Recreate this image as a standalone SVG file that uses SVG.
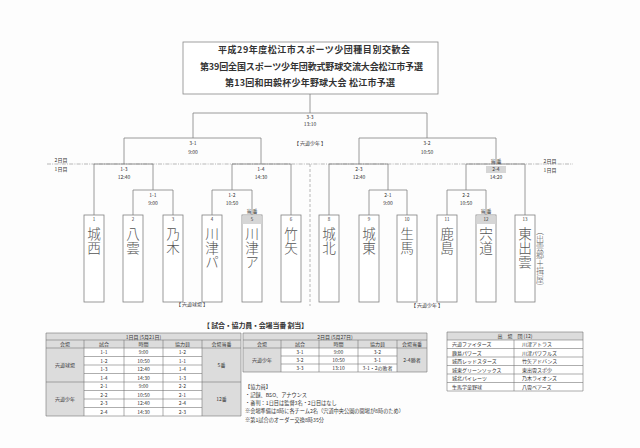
<svg xmlns="http://www.w3.org/2000/svg" width="640" height="448" viewBox="0 0 640 448">
<style>
text{font-family:"Noto Sans CJK JP","Noto Sans CJK SC",sans-serif;fill:#333}
.ln{stroke:#808080;stroke-width:0.8;fill:none}
.box{fill:#fff;stroke:#808080;stroke-width:0.8}
.sh{fill:#d6d6d6}
.lbl{font-size:5px;text-anchor:middle}
.num{font-size:4.5px;text-anchor:middle}
.team{font-size:13.6px;fill:#555;font-weight:300;writing-mode:vertical-rl;letter-spacing:0.2px}
.ttl{font-size:9px;text-anchor:middle;font-weight:bold;fill:#333}
.tc{font-size:5px;text-anchor:middle}
.tl{font-size:5px}
.tg{fill:#dcdcdc}
.tw{fill:#fff}
.tb{stroke:#777;stroke-width:0.6;fill:none}
.nt{font-size:5.2px}
</style>
<rect width="640" height="448" fill="#fdfdfd"/>

<g id="title">
<rect x="183" y="42" width="255" height="52" fill="#fff" stroke="#888" stroke-width="0.8"/>
<text class="ttl" x="314" y="52.5" textLength="192" lengthAdjust="spacing">平成29年度松江市スポーツ少団種目別交歓会</text>
<text class="ttl" x="311.5" y="69.5" textLength="223" lengthAdjust="spacing">第39回全国スポーツ少年団軟式野球交流大会松江市予選</text>
<text class="ttl" x="310" y="86.3" textLength="170" lengthAdjust="spacing">第13回和田毅杯少年野球大会 松江市予選</text>
</g>

<g id="day-lines">
<path d="M47 164H573" stroke="#999" stroke-width="0.7" stroke-dasharray="4 1.2 1 1.2" fill="none"/>
<path d="M310 164V306" stroke="#999" stroke-width="0.7" stroke-dasharray="3 2" fill="none"/>
<text class="lbl" x="61" y="161.8">2日目</text>
<text class="lbl" x="61" y="170.8">1日目</text>
<text class="lbl" x="550" y="162.8">2日目</text>
<text class="lbl" x="550" y="171.8">1日目</text>
</g>

<g id="connectors">
<path class="ln" d="M310 94V113M193 113H427M193 113V138M427 113V138"/>
<path class="ln" d="M124 138H261M124 138V164M261 138V164"/>
<path class="ln" d="M359 138H496M359 138V164M496 138V164"/>
<path class="ln" d="M94 164H153M94 164V215M153 164V190"/>
<path class="ln" d="M133 190H173M133 190V215M173 190V215"/>
<path class="ln" d="M232 164H291M232 164V190M291 164V215"/>
<path class="ln" d="M212 190H252M212 190V215M252 190V215"/>
<path class="ln" d="M329 164H388M329 164V215M388 164V190"/>
<path class="ln" d="M369 190H407M369 190V215M407 190V215"/>
<path class="ln" d="M466 164H525M466 164V190M525 164V215"/>
<path class="ln" d="M447 190H486M447 190V215M486 190V215"/>
</g>

<g id="match-labels">
<text class="lbl" x="310" y="118.7">3-3</text>
<text class="lbl" x="310" y="126.2">13:10</text>
<text class="lbl" x="193" y="144.8">3-1</text>
<text class="lbl" x="193" y="153.8">9:00</text>
<text class="lbl" x="427" y="144.8">3-2</text>
<text class="lbl" x="427" y="153.8">10:50</text>
<text class="lbl" x="310" y="144.8">【 宍道少年 】</text>
<text class="lbl" x="124" y="170.8">1-3</text>
<text class="lbl" x="124" y="178.8">12:40</text>
<text class="lbl" x="261" y="170.8">1-4</text>
<text class="lbl" x="261" y="178.8">14:30</text>
<text class="lbl" x="359" y="170.8">2-3</text>
<text class="lbl" x="359" y="178.8">12:40</text>
<text class="lbl" x="496" y="162.8">当 番</text>
<rect x="486" y="166" width="20" height="7" class="sh"/>
<text class="lbl" x="496" y="171.3">2-4</text>
<text class="lbl" x="496" y="178.8">14:20</text>
<text class="lbl" x="153" y="196.8">1-1</text>
<text class="lbl" x="153" y="204.8">9:00</text>
<text class="lbl" x="232" y="196.8">1-2</text>
<text class="lbl" x="232" y="204.8">10:50</text>
<text class="lbl" x="388" y="196.8">2-1</text>
<text class="lbl" x="388" y="204.8">9:00</text>
<text class="lbl" x="466" y="196.8">2-2</text>
<text class="lbl" x="466" y="204.8">10:50</text>
<text class="lbl" x="192" y="306">【 宍道球場 】</text>
<text class="lbl" x="427" y="306.5">【 宍道少年 】</text>
</g>

<g id="team-1"><rect class="box" x="84" y="215" width="20" height="87"/><text class="num" x="94" y="220.5">1</text>
<text class="team" x="94" y="227">城西</text></g>
<g id="team-2"><rect class="box" x="123" y="215" width="20" height="87"/><text class="num" x="133" y="220.5">2</text>
<text class="team" x="133" y="227">八雲</text></g>
<g id="team-3"><rect class="box" x="163" y="215" width="20" height="87"/><text class="num" x="173" y="220.5">3</text>
<text class="team" x="173" y="227">乃木</text></g>
<g id="team-4"><rect class="box" x="202" y="215" width="20" height="87"/><text class="num" x="212" y="220.5">4</text>
<text class="team" x="212" y="227">川津パ</text></g>
<g id="team-5"><rect class="box" x="242" y="215" width="20" height="87"/><rect class="sh" x="242.4" y="215.4" width="19.2" height="8.6"/><text class="num" x="252" y="220.5">5</text>
<text class="lbl" x="252" y="212.5">当 番</text>
<text class="team" x="252" y="227">川津ア</text></g>
<g id="team-6"><rect class="box" x="281" y="215" width="20" height="87"/><text class="num" x="291" y="220.5">6</text>
<text class="team" x="291" y="227">竹矢</text></g>

<g id="team-8"><rect class="box" x="319" y="215" width="20" height="87"/><text class="num" x="329" y="220.5">8</text>
<text class="team" x="329" y="227">城北</text></g>
<g id="team-9"><rect class="box" x="359" y="215" width="20" height="87"/><text class="num" x="369" y="220.5">9</text>
<text class="team" x="369" y="227">城東</text></g>
<g id="team-10"><rect class="box" x="397" y="215" width="20" height="87"/><text class="num" x="407" y="220.5">10</text>
<text class="team" x="407" y="227">生馬</text></g>
<g id="team-11"><rect class="box" x="437" y="215" width="20" height="87"/><text class="num" x="447" y="220.5">11</text>
<text class="team" x="447" y="227">鹿島</text></g>
<g id="team-12"><rect class="box" x="476" y="215" width="20" height="87"/><rect class="sh" x="476.4" y="215.4" width="19.2" height="8.6"/><text class="num" x="486" y="220.5">12</text>
<text class="lbl" x="486" y="212.5">当 番</text>
<text class="team" x="486" y="227">宍道</text></g>
<g id="team-13"><rect class="box" x="515" y="215" width="20" height="87"/><text class="num" x="525" y="220.5">13</text>
<text class="team" x="525" y="227">東出雲</text>
<text x="540" y="227" style="font-size:8px;fill:#555;font-weight:300;writing-mode:vertical-rl">（出雲郷＋揖屋）</text></g>

<g id="schedule-title">
<text x="255.5" y="327.5" style="font-size:7px;font-weight:bold;text-anchor:middle" textLength="105" lengthAdjust="spacing">【 試合・協力員・会場当番 割当】</text>
</g>

<g id="table-day1">
<rect class="tg" x="46" y="333" width="195" height="83"/>
<rect class="tw" x="84" y="348" width="118" height="68"/>
<path class="tb" d="M46 333H241V416H46Z M46 340H241 M46 348H241 M46 382H241 M84 356.5H202 M84 365H202 M84 373.5H202 M84 390.5H202 M84 399H202 M84 407.5H202 M84 340V416 M124 340V416 M163 340V416 M202 340V416"/>
<text class="tc" x="143.5" y="338.5">1日目 (5月21日)</text>
<text class="tc" x="65" y="346">会場</text>
<text class="tc" x="104" y="346">試合</text>
<text class="tc" x="143.5" y="346">時間</text>
<text class="tc" x="182.5" y="346">協力員</text>
<text class="tc" x="221.5" y="346">会場当番</text>
<text class="tc" x="65" y="366.8">宍道球場</text>
<text class="tc" x="221.5" y="366.8">5番</text>
<text class="tc" x="65" y="400.8">宍道少年</text>
<text class="tc" x="221.5" y="400.8">12番</text>
<text class="tc" x="104" y="354">1-1</text><text class="tc" x="143.5" y="354">9:00</text><text class="tc" x="182.5" y="354">1-2</text>
<text class="tc" x="104" y="362.5">1-2</text><text class="tc" x="143.5" y="362.5">10:50</text><text class="tc" x="182.5" y="362.5">1-1</text>
<text class="tc" x="104" y="371">1-3</text><text class="tc" x="143.5" y="371">12:40</text><text class="tc" x="182.5" y="371">1-4</text>
<text class="tc" x="104" y="379.5">1-4</text><text class="tc" x="143.5" y="379.5">14:30</text><text class="tc" x="182.5" y="379.5">1-3</text>
<text class="tc" x="104" y="388">2-1</text><text class="tc" x="143.5" y="388">9:00</text><text class="tc" x="182.5" y="388">2-2</text>
<text class="tc" x="104" y="396.5">2-2</text><text class="tc" x="143.5" y="396.5">10:50</text><text class="tc" x="182.5" y="396.5">2-1</text>
<text class="tc" x="104" y="405">2-3</text><text class="tc" x="143.5" y="405">12:40</text><text class="tc" x="182.5" y="405">2-4</text>
<text class="tc" x="104" y="413.5">2-4</text><text class="tc" x="143.5" y="413.5">14:30</text><text class="tc" x="182.5" y="413.5">2-3</text>
</g>

<g id="table-day2">
<rect class="tg" x="243" y="333" width="184" height="39"/>
<rect class="tw" x="281" y="348" width="116" height="24"/>
<path class="tb" d="M243 333H427V372H243Z M243 340H427 M243 348H427 M281 356H397 M281 364H397 M281 340V372 M319 340V372 M358 340V372 M397 340V372"/>
<text class="tc" x="335" y="338.5">2日目 (5月27日)</text>
<text class="tc" x="262" y="346">会場</text>
<text class="tc" x="300" y="346">試合</text>
<text class="tc" x="338.5" y="346">時間</text>
<text class="tc" x="377.5" y="346">協力員</text>
<text class="tc" x="412" y="346">会場当番</text>
<text class="tc" x="262" y="361.8">宍道少年</text>
<text class="tc" x="412" y="361.8">2-4勝者</text>
<text class="tc" x="300" y="353.8">3-1</text><text class="tc" x="338.5" y="353.8">9:00</text><text class="tc" x="377.5" y="353.8">3-2</text>
<text class="tc" x="300" y="361.8">3-2</text><text class="tc" x="338.5" y="361.8">10:50</text><text class="tc" x="377.5" y="361.8">3-1</text>
<text class="tc" x="300" y="369.8">3-3</text><text class="tc" x="338.5" y="369.8">13:10</text><text class="tc" x="377.5" y="369.8">3-1・2の敗者</text>
</g>

<g id="notes">
<text class="nt" x="245" y="389">【協力員】</text>
<text class="nt" x="245" y="397">・記録、BSO、アナウンス</text>
<text class="nt" x="245" y="405">・審判：1日目は監督3名・2日目はなし</text>
<text class="nt" x="245" y="413">※会場準備は8時に各チーム2名（宍道中央公園の開場が8時のため）</text>
<text class="nt" x="245" y="421.5">※第1試合のオーダー交換8時35分</text>
</g>

<g id="table-teams">
<rect class="tg" x="447" y="332" width="136" height="8"/>
<rect class="tw" x="447" y="340" width="136" height="51"/>
<path class="tb" d="M447 332H583V391H447Z M447 340H583 M447 348.5H583 M447 357H583 M447 365.5H583 M447 374H583 M447 382.5H583 M514 340V391"/>
<text class="tc" x="515" y="337.8">出　場　団 (12)</text>
<text class="tl" x="452" y="346">宍道ファイターズ</text><text class="tl" x="522" y="346">川津アトラス</text>
<text class="tl" x="452" y="354.5">鹿島パワーズ</text><text class="tl" x="522" y="354.5">川津パワフルズ</text>
<text class="tl" x="452" y="363">城西レッドスターズ</text><text class="tl" x="522" y="363">竹矢アドバンス</text>
<text class="tl" x="452" y="371.5">城東グリーンソックス</text><text class="tl" x="522" y="371.5">東出雲スポ少</text>
<text class="tl" x="452" y="380">城北パイレーツ</text><text class="tl" x="522" y="380">乃木ライオンズ</text>
<text class="tl" x="452" y="388.5">生馬学童野球</text><text class="tl" x="522" y="388.5">八雲ベアーズ</text>
</g>
</svg>
